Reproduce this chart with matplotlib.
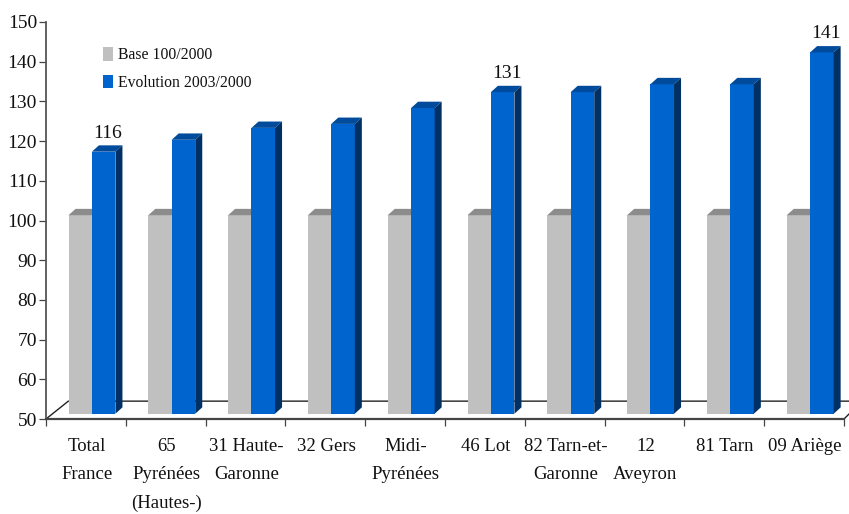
import matplotlib
matplotlib.use("Agg")
import matplotlib.pyplot as plt
from matplotlib.patches import Patch

categories = ["Total\nFrance", "65\nPyrénées\n(Hautes-)", "31 Haute-\nGaronne", "32 Gers",
              "Midi-\nPyrénées", "46 Lot", "82 Tarn-et-\nGaronne", "12\nAveyron", "81 Tarn", "09 Ariège"]
base_values = [100, 100, 100, 100, 100, 100, 100, 100, 100, 100]
evolution_values = [116, 119, 122, 123, 127, 131, 131, 133, 133, 141]
shown_labels = {0: "116", 5: "131", 9: "141"}
y_ticks = [50, 60, 70, 80, 90, 100, 110, 120, 130, 140, 150]

W, H = 849, 514
plt.rcParams['font.family'] = ['Liberation Serif', 'DejaVu Serif']
fig = plt.figure(figsize=(W / 100, H / 100), dpi=100, facecolor='white')
ax = fig.add_axes([46 / W, (H - 419) / H, 798 / W, 397 / H])
ax.set_xlim(0, 10)
ax.set_ylim(50, 150)

FRONT = 1.33   # lift of the front plane above the floor edge
DX, DY = 0.088, 1.6   # extrusion depth
GRAY_FRONT, GRAY_TOP = '#c0c0c0', '#8c8c8c'
BLUE_FRONT, BLUE_TOP, BLUE_SIDE = '#0064cf', '#004b9b', '#003064'
GX, GW = 0.282, 0.293
BX, BW = 0.575, 0.295

# Floor / back wall lines
ax.plot([0, 0.28, 10.06], [50, 54.5, 54.5], color='#222222', lw=1.0, clip_on=False, zorder=1)
ax.plot([10, 10.07], [50, 51.4], color='#222222', lw=1.0, clip_on=False, zorder=1)

for i, (b, e) in enumerate(zip(base_values, evolution_values)):
    x = i + GX
    ax.bar(x, b - 50, GW, bottom=50 + FRONT, align='edge', color=GRAY_FRONT, zorder=2)
    t = b + FRONT
    ax.fill([x, x + DX, x + GW + DX, x + GW], [t, t + DY, t + DY, t], color=GRAY_TOP, lw=0, zorder=2)
    x = i + BX
    t = e + FRONT
    ax.bar(x, e - 50, BW, bottom=50 + FRONT, align='edge', color=BLUE_FRONT, zorder=3)
    ax.fill([x, x + DX, x + BW + DX, x + BW], [t, t + DY, t + DY, t], color=BLUE_TOP, lw=0, zorder=3)
    ax.fill([x + BW, x + BW + DX, x + BW + DX, x + BW],
            [50 + FRONT, 50 + FRONT + DY, t + DY, t], color=BLUE_SIDE, lw=0, zorder=3)
    if i in shown_labels:
        ax.text(i + 0.775, e + 6, shown_labels[i], ha='center', va='center',
                fontsize=14, color='#111111', zorder=5)

for s in ('top', 'right'):
    ax.spines[s].set_visible(False)
ax.spines['left'].set_color('#555555')
ax.spines['left'].set_linewidth(1.3)
ax.spines['bottom'].set_color('#444444')
ax.spines['bottom'].set_linewidth(1.6)

ax.set_yticks(y_ticks)
ax.tick_params(axis='y', length=5, width=0.9, color='#444444', pad=1.5, labelsize=14, labelcolor='#111111')
ax.set_xticks(range(11))
ax.set_xticklabels([])
ax.tick_params(axis='x', which='major', length=5, width=0.9, color='#444444')
ax.set_xticks([i + 0.51 for i in range(10)], minor=True)
ax.set_xticklabels(categories, minor=True, fontsize=13.5, color='#111111', linespacing=1.85)
ax.tick_params(axis='x', which='minor', length=0, pad=14)

handles = [Patch(color=GRAY_FRONT, lw=0, label='Base 100/2000'),
           Patch(color=BLUE_FRONT, lw=0, label='Evolution 2003/2000')]
ax.legend(handles=handles, loc='upper left', bbox_to_anchor=(57 / 798, (397 - 25) / 397),
          frameon=False, fontsize=11.3, handlelength=0.66, handleheight=0.95, handletextpad=0.3,
          labelspacing=0.75, borderpad=0, borderaxespad=0, labelcolor='#111111')

fig.savefig('out.png', dpi=100)
